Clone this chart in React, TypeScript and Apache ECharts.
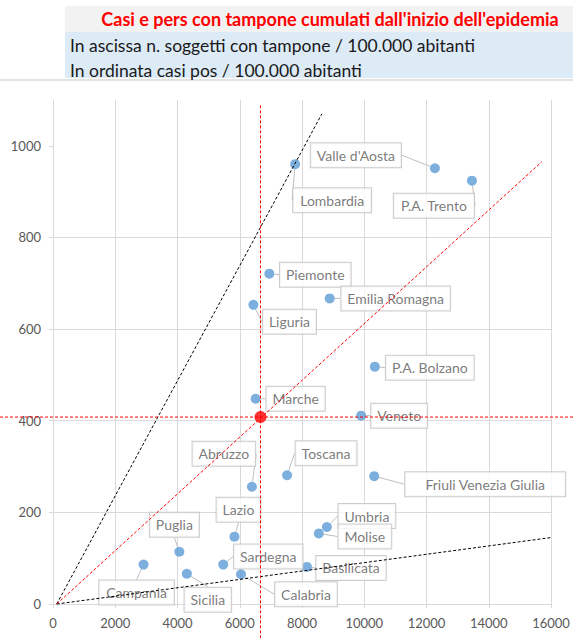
import React, { useEffect, useRef } from 'react';
import * as echarts from 'echarts';

const regions = ['Piemonte', "Valle d'Aosta", 'Lombardia', 'P.A. Bolzano', 'P.A. Trento', 'Veneto', 'Friuli Venezia Giulia', 'Liguria', 'Emilia Romagna', 'Toscana', 'Umbria', 'Marche', 'Lazio', 'Abruzzo', 'Molise', 'Campania', 'Puglia', 'Basilicata', 'Calabria', 'Sicilia', 'Sardegna'];
// soggetti con tampone / 100.000 abitanti
const tamponi = [6950, 12270, 7780, 10340, 13460, 9900, 10320, 6440, 8890, 7520, 8800, 6510, 5830, 6390, 8540, 2910, 4060, 8160, 6040, 4300, 5470];
// casi positivi / 100.000 abitanti
const casi = [721, 951, 960, 518, 924, 411, 279, 653, 667, 281, 168, 448, 147, 256, 154, 86, 114, 81, 65, 66, 86];
// media Italia
const italiaX = 6667;
const italiaY = 408;
// reference lines (x, y pairs)
const lineMedia = [[120, 0], [15700, 965]];
const lineAlta = [[120, 0], [8640, 1070]];
const lineBassa = [[120, 0], [16000, 145]];
const lineVert = [[italiaX, -75], [italiaX, 1092]];
// horizontal line spanning the whole page width (fraction of width)
const lineOriz = [[0, italiaY], [1, italiaY]];

const xTicks = [0, 2000, 4000, 6000, 8000, 10000, 12000, 14000, 16000];
const yTicks = [0, 200, 400, 600, 800, 1000];

// label callout offsets in px (layout only)
const labelOffsets: number[][] = [
  [46, 1], [-79, -13], [37, 36], [55, 1], [-38, 25], [38, 0], [111, 8], [36, 17], [66, 0], [39, -22],
  [40, -11], [40, 0], [4, -27], [-28, -33], [46, 3], [-7, 28], [-5, -27], [44, 1], [65, 20], [21, 26], [45, -8],
];
// horizontal label padding (layout only)
const labelPadX = [6, 6, 7, 6, 7, 6, 20, 6, 6, 6, 6, 6, 6, 6, 6, 7, 6, 6, 6, 6, 6];

const FONT = 'Lato, "Open Sans", sans-serif';

export default function App() {
  const ref = useRef<HTMLDivElement>(null);
  useEffect(() => {
    if (!ref.current) return;
    const chart = echarts.init(ref.current, null, { renderer: 'svg' });
    const dashed = (color: string, data: number[][], extra: any = {}) => ({
      type: 'line',
      data,
      symbol: 'none',
      clip: false,
      silent: true,
      z: 3,
      lineStyle: { color, width: 1, type: [3, 2] },
      ...extra,
    });
    chart.setOption({
      animation: false,
      backgroundColor: '#ffffff',
      textStyle: { fontFamily: FONT },
      grid: [
        { left: 53, right: 22, top: 100, bottom: 34 },
        { left: 0, right: 0, top: 100, bottom: 34 },
      ],
      graphic: [
        { type: 'rect', shape: { x: 65, y: 6, width: 508, height: 26 }, style: { fill: '#f2f2f2' }, silent: true },
        { type: 'rect', shape: { x: 65, y: 32, width: 508, height: 46 }, style: { fill: '#ddebf7' }, silent: true },
        { type: 'line', shape: { x1: 0, y1: 80, x2: 573, y2: 80 }, style: { stroke: '#d9d9d9', lineWidth: 1.5 }, silent: true },
        { type: 'text', x: 330, y: 19, style: { text: "Casi e pers con tampone cumulati dall'inizio dell'epidemia", fill: '#ff0000', font: `bold 18px ${FONT}`, textAlign: 'center', textVerticalAlign: 'middle' } },
        { type: 'text', x: 70, y: 45, style: { text: 'In ascissa n. soggetti con tampone / 100.000 abitanti', fill: '#1a1a1a', font: `17.5px ${FONT}`, textAlign: 'left', textVerticalAlign: 'middle' } },
        { type: 'text', x: 70, y: 70, style: { text: 'In ordinata casi pos / 100.000 abitanti', fill: '#1a1a1a', font: `17.5px ${FONT}`, textAlign: 'left', textVerticalAlign: 'middle' } },
      ],
      xAxis: [
        {
          type: 'value', min: 0, max: 16000, interval: 2000, gridIndex: 0,
          axisLine: { show: true, lineStyle: { color: '#d9d9d9' } },
          axisTick: { show: true, length: 4, lineStyle: { color: '#d9d9d9' } },
          splitLine: { show: true, lineStyle: { color: '#d9d9d9' } },
          axisLabel: { color: '#595959', fontSize: 13, fontFamily: FONT, margin: 12, customValues: xTicks, formatter: (v: number) => String(v) },
        },
        { type: 'value', min: 0, max: 1, gridIndex: 1, show: false },
      ],
      yAxis: [
        {
          type: 'value', min: 0, max: 1100, interval: 200, gridIndex: 0,
          axisLine: { show: true, lineStyle: { color: '#d9d9d9' } },
          axisTick: { show: true, length: 4, lineStyle: { color: '#d9d9d9' }, customValues: yTicks },
          splitLine: { show: true, showMaxLine: false, lineStyle: { color: '#d9d9d9' } },
          axisLabel: { color: '#595959', fontSize: 13, fontFamily: FONT, margin: 12, customValues: yTicks, formatter: (v: number) => String(v) },
        },
        { type: 'value', min: 0, max: 1100, gridIndex: 1, show: false },
      ],
      series: [
        {
          type: 'scatter',
          z: 2,
          symbolSize: 10,
          itemStyle: { color: '#5b9bd5' },
          data: regions.map((r, i) => ({ name: r, value: [tamponi[i], casi[i]], label: { padding: [5, labelPadX[i]] } })),
          label: {
            show: true,
            position: 'inside',
            formatter: '{b}',
            color: '#595959',
            fontSize: 14,
            fontFamily: FONT,
            backgroundColor: '#ffffff',
            borderColor: '#bfbfbf',
            borderWidth: 1,
            padding: [5, 6],
          },
          labelLine: { show: true, lineStyle: { color: '#bfbfbf', width: 1 } },
          labelLayout: (p: any) => ({ dx: labelOffsets[p.dataIndex][0], dy: labelOffsets[p.dataIndex][1], hideOverlap: false }),
        },
        dashed('#000000', lineAlta),
        dashed('#000000', lineBassa),
        dashed('#ff0000', lineMedia),
        dashed('#ff0000', lineVert),
        dashed('#ff0000', lineOriz, { xAxisIndex: 1, yAxisIndex: 1 }),
        {
          type: 'scatter',
          z: 5,
          symbolSize: 12,
          itemStyle: { color: '#ff0000' },
          data: [[italiaX, italiaY]],
        },
      ],
    });
    return () => chart.dispose();
  }, []);
  return <div ref={ref} style={{ position: 'absolute', left: 0, top: 0, width: 573, height: 638 }} />;
}
